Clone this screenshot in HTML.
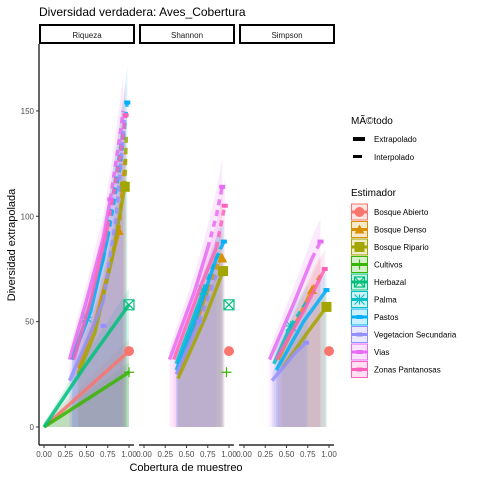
<!DOCTYPE html>
<html><head><meta charset="utf-8"><style>
body{margin:0;background:#fff;}
svg{font-family:"Liberation Sans",sans-serif;}
</style></head><body>
<svg id="chart" width="480" height="480">
<rect width="480" height="480" fill="#fff"/>
<text x="39" y="16" font-size="12" fill="#000">Diversidad verdadera: Aves_Cobertura</text>
<g id="panels"></g>
<text x="186" y="471" font-size="11" text-anchor="middle">Cobertura de muestreo</text>
<text transform="translate(15,245) rotate(-90)" font-size="11" text-anchor="middle">Diversidad extrapolada</text>
<g id="legend"></g>
</svg>
<script>
const panels = ["Riqueza","Shannon","Simpson"];
const groups = ["Bosque Abierto","Bosque Denso","Bosque Ripario","Cultivos","Herbazal","Palma","Pastos","Vegetacion Secundaria","Vias","Zonas Pantanosas"];
const colors = ["#F8766D","#D89000","#A3A500","#39B600","#00BF7D","#00BFC4","#00B0F6","#9590FF","#E76BF3","#FF62BC"];
const yTicks = [0,50,100,150];
const xTicks = [0,0.25,0.5,0.75,1];
const xTickLabels = ["0.00","0.25","0.50","0.75","1.00"];
// per panel, per group: solid (interpolated) segment [cov,val] pairs
const solidRiq = [[[0,0],[1,36]],[[0.4,28],[0.6,50],[0.8,80],[0.88,93]],[[0.4,25],[0.6,45],[0.8,80],[0.95,114]],[[0,0],[1,26]],[[0,0],[0.5,30],[1,58]],[[0.33,32],[0.5,52],[0.7,80]],[[0.33,32],[0.55,55],[0.75,90]],[[0.3,22],[0.55,45],[0.7,60]],[[0.3,32],[0.5,60],[0.7,90],[0.78,108]],[[0.35,32],[0.55,60],[0.75,95]]];
const dashRiq = [[],[[0.88,93],[0.96,130]],[[0.95,114],[0.97,140]],[],[],[[0.7,80],[0.93,140]],[[0.75,90],[0.9,125],[0.98,154]],[[0.7,60],[0.85,100],[0.95,146]],[[0.78,108],[0.9,140],[0.93,150]],[[0.75,95],[0.9,130],[0.96,148]]];
const solidSha = [[],[[0.4,25],[0.75,65]],[[0.4,23],[0.7,50],[0.93,74]],[],[],[[0.38,30],[0.7,65]],[[0.38,27],[0.6,50],[0.85,80]],[[0.38,25],[0.65,50]],[[0.3,32],[0.6,65],[0.75,85]],[[0.35,32],[0.65,65],[0.85,85]]];
const dashSha = [[],[[0.75,65],[0.92,83]],[],[],[],[[0.7,65],[0.9,85]],[[0.85,80],[0.94,88]],[[0.65,50],[0.85,72]],[[0.75,85],[0.85,100],[0.92,114]],[[0.85,85],[0.95,105]]];
const solidSim = [[],[[0.4,32],[0.8,65]],[[0.45,28],[0.75,45],[0.97,57]],[],[],[[0.35,30],[0.55,48]],[[0.38,27],[0.7,50],[0.97,65]],[[0.33,22],[0.6,35],[0.73,40]],[[0.3,32],[0.6,60],[0.8,80]],[[0.38,32],[0.7,55],[0.95,75]]];
const dashSim = [[],[[0.8,65],[0.9,72]],[],[],[],[[0.55,48],[0.75,60]],[],[],[[0.8,80],[0.9,88]],[]];
// observed points: [cov,val] or null
const obsRiq = [[1,36],[0.88,93],[0.95,114],[1,26],[1,58],[0.5,52],[0.98,154],[0.7,48],[0.78,108],[0.96,148]];
const obsSha = [[1,36],[0.92,80],[0.93,74],[0.97,26],[1,58],[0.7,65],[0.94,88],[0.65,50],[0.92,114],[0.95,105]];
const obsSim = [[1,36],[0.8,65],[0.97,57],null,null,[0.55,48],[0.97,65],[0.73,40],[0.9,88],[0.95,75]];
const solids=[solidRiq,solidSha,solidSim], dashes=[dashRiq,dashSha,dashSim], obs=[obsRiq,obsSha,obsSim];

const NS="http://www.w3.org/2000/svg";
const svg=document.getElementById('chart');
const P=document.getElementById('panels');
const yS=v=>427-v*2.107;
const panelLeft=[39,139,239];
const xS=(p,c)=>panelLeft[p]+5+c*85;
function mk(tag,attrs,parent){const e=document.createElementNS(NS,tag);for(const k in attrs)e.setAttribute(k,attrs[k]);(parent||P).appendChild(e);return e;}
function shape(g,x,y,col,size,parent){
  let e;
  if(g===0){e=mk('circle',{cx:x,cy:y,r:size,fill:col},parent);}
  else if(g===1){e=mk('polygon',{points:`${x},${y-size} ${x-size},${y+size*0.8} ${x+size},${y+size*0.8}`,fill:col},parent);}
  else if(g===2){e=mk('rect',{x:x-size,y:y-size,width:2*size,height:2*size,fill:col},parent);}
  else if(g===3){e=mk('path',{d:`M${x-size} ${y}H${x+size}M${x} ${y-size}V${y+size}`,stroke:col,'stroke-width':1.2,fill:'none'},parent);}
  else if(g===4){e=mk('path',{d:`M${x-size} ${y-size}h${2*size}v${2*size}h${-2*size}zM${x-size} ${y-size}L${x+size} ${y+size}M${x+size} ${y-size}L${x-size} ${y+size}`,stroke:col,'stroke-width':1.2,fill:'none'},parent);}
  else if(g===5){e=mk('path',{d:`M${x-size} ${y}H${x+size}M${x} ${y-size}V${y+size}M${x-size} ${y-size}L${x+size} ${y+size}M${x+size} ${y-size}L${x-size} ${y+size}`,stroke:col,'stroke-width':1,fill:'none'},parent);}
  else {e=mk('rect',{x:x-size*0.6,y:y-2,width:size*1.2,height:4,fill:col},parent);}
  return e;
}
for(let p=0;p<3;p++){
  const strip=mk('rect',{x:panelLeft[p]+1,y:25,width:94,height:18,fill:'#fff',stroke:'#000','stroke-width':2});
  
  
  const st=mk('text',{x:panelLeft[p]+48,y:38,'font-size':8,'text-anchor':'middle',fill:'#1a1a1a'});
  st.textContent=panels[p];
  
  
  // ribbons
  for(let g=0;g<groups.length;g++){
    const pts=solids[p][g].concat(dashes[p][g].slice(1));
    if(pts.length<2)continue;
    let d='M'+xS(p,pts[0][0])+' '+yS(0);
    pts.forEach(q=>{d+=' L'+xS(p,q[0])+' '+yS(q[1]*1.1+2);});
    d+=' L'+xS(p,pts[pts.length-1][0])+' '+yS(0)+'Z';
    const r=mk('path',{d:d,fill:colors[g],'fill-opacity':0.15});
    
    
  }
  for(let g=0;g<groups.length;g++){
    const s=solids[p][g];
    if(s.length>1){
      const l=mk('polyline',{points:s.map(q=>xS(p,q[0])+','+yS(q[1])).join(' '),fill:'none',stroke:colors[g],'stroke-width':3.5,'stroke-opacity':0.85});
      
      
    }
    const dd=dashes[p][g];
    if(dd.length>1){
      const l=mk('polyline',{points:dd.map(q=>xS(p,q[0])+','+yS(q[1])).join(' '),fill:'none',stroke:colors[g],'stroke-width':3.5,'stroke-dasharray':'6 5','stroke-opacity':0.85});
      
      
    }
    const o=obs[p][g];
    if(o){
      const m=shape(g,xS(p,o[0]),yS(o[1]),colors[g],g<3?5:5);
      
      
    }
  }
  // x axis
  const ax=mk('line',{x1:panelLeft[p],x2:panelLeft[p]+95,y1:445,y2:445,stroke:'#000','stroke-width':1.2});
  
  
  xTicks.forEach((t,i)=>{
    mk('line',{x1:xS(p,t),x2:xS(p,t),y1:445,y2:448,stroke:'#333'});
    const tl=mk('text',{x:xS(p,t),y:457,'font-size':8,'text-anchor':'middle',fill:'#4d4d4d'});
    tl.textContent=xTickLabels[i];
    
    
  });
}
const ya=mk('line',{x1:39,x2:39,y1:44,y2:445,stroke:'#000','stroke-width':1.2});


yTicks.forEach(t=>{
  mk('line',{x1:36,x2:39,y1:yS(t),y2:yS(t),stroke:'#333'});
  const tl=mk('text',{x:34,y:yS(t)+3,'font-size':8,'text-anchor':'end',fill:'#4d4d4d'});
  tl.textContent=t;
  
  
});
// legend
const L=document.getElementById('legend');
const t1=mk('text',{x:351,y:124,'font-size':10},L);t1.textContent='MÃ©todo';


mk('rect',{x:353,y:137,width:12,height:4,fill:'#000'},L);
mk('rect',{x:353,y:155,width:9,height:3,fill:'#000'},L);
const e1=mk('text',{x:374,y:142,'font-size':8},L);e1.textContent='Extrapolado';


const e2=mk('text',{x:374,y:160,'font-size':8},L);e2.textContent='Interpolado';


const t2=mk('text',{x:351,y:196,'font-size':10},L);t2.textContent='Estimador';


groups.forEach((g,i)=>{
  const y=212+i*17.5;
  mk('rect',{x:351.5,y:y-8,width:16,height:16,fill:colors[i],'fill-opacity':0.2,stroke:colors[i],'stroke-width':1},L);
  mk('line',{x1:352,x2:367,y1:y,y2:y,stroke:colors[i],'stroke-width':3},L);
  shape(i,359.5,y,colors[i],5,L);
  const tx=mk('text',{x:374,y:y+3,'font-size':8},L);tx.textContent=g;
  
  
});
</script>
</body></html>
